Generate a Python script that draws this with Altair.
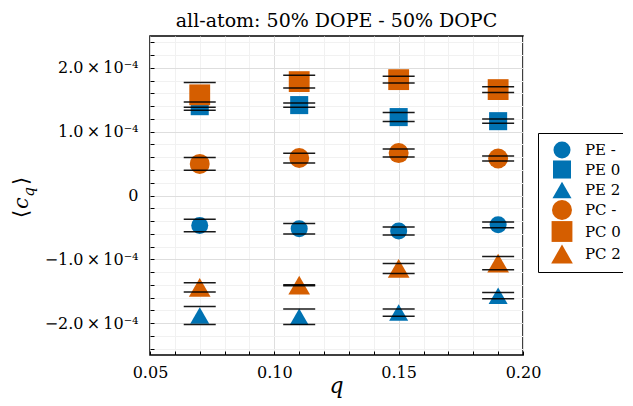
import altair as alt
import pandas as pd

# ---------------- data ----------------
q_values = [0.07, 0.11, 0.15, 0.19]
series_names = ["PE -", "PE 0", "PE 2", "PC -", "PC 0", "PC 2"]

pe_minus = [-0.470e-4, -0.520e-4, -0.557e-4, -0.460e-4]
pe_minus_err = [0.098e-4, 0.083e-4, 0.062e-4, 0.044e-4]
pe_zero = [1.400e-4, 1.417e-4, 1.229e-4, 1.165e-4]
pe_zero_err = [0.064e-4, 0.034e-4, 0.070e-4, 0.034e-4]
pe_two = [-1.880e-4, -1.900e-4, -1.835e-4, -1.570e-4]
pe_two_err = [0.140e-4, 0.120e-4, 0.056e-4, 0.050e-4]
pc_minus = [0.495e-4, 0.587e-4, 0.665e-4, 0.580e-4]
pc_minus_err = [0.100e-4, 0.077e-4, 0.062e-4, 0.040e-4]
pc_zero = [1.578e-4, 1.785e-4, 1.816e-4, 1.660e-4]
pc_zero_err = [0.193e-4, 0.100e-4, 0.054e-4, 0.046e-4]
pc_two = [-1.440e-4, -1.405e-4, -1.144e-4, -1.060e-4]
pc_two_err = [0.072e-4, 0.008e-4, 0.080e-4, 0.105e-4]

series_values = [pe_minus, pe_zero, pe_two, pc_minus, pc_zero, pc_two]
series_errors = [pe_minus_err, pe_zero_err, pe_two_err, pc_minus_err, pc_zero_err, pc_two_err]

series_colors = ["#0072B2", "#0072B2", "#0072B2", "#D55E00", "#D55E00", "#D55E00"]
series_shapes = ["circle", "square", "triangle-up", "circle", "square", "triangle-up"]
series_sizes = [290, 470, 500, 290, 470, 500]

x_ticks = [round(0.05 + 0.01 * i, 4) for i in range(16)]
y_ticks = [round(-2.4e-4 + 0.2e-4 * i, 10) for i in range(25)]

title_text = "all-atom: 50% DOPE - 50% DOPC"
x_title = "q"

rows = []
for name, vals, errs in zip(series_names, series_values, series_errors):
    for q, v, e in zip(q_values, vals, errs):
        rows.append({"series": name, "q": q, "value": v, "err": e})
df = pd.DataFrame(rows)

FONT = "DejaVu Serif"

x_major_test = "abs(datum.value*20 - round(datum.value*20)) < 1e-6"
y_major_test = "abs(datum.value*1e4 - round(datum.value*1e4)) < 1e-6"

x_axis = alt.Axis(
    values=x_ticks,
    title=None,
    labelExpr=f"{x_major_test} ? format(datum.value, '.2f') : ''",
    labelFont=FONT,
    labelFontSize=16,
    labelColor="black",
    labelPadding=13,
    labelFlush=False,
    labelOverlap=False,
    domain=False,
    ticks=True,
    tickColor="black",
    tickSize=alt.ExprRef(expr="-4"),
    grid=True,
    gridColor={"condition": {"test": x_major_test, "value": "#dedede"}, "value": "#f1f1f1"},
    gridWidth=1,
)

y_axis = alt.Axis(
    values=y_ticks,
    title=None,
    labelExpr=(
        f"{y_major_test} ? (abs(datum.value) < 1e-9 ? '0' : "
        "(datum.value < 0 ? '\u2212' : '') + format(abs(datum.value)*1e4, '.1f') + '\u2009\u00d7\u200910\u207b\u2074') : ''"
    ),
    labelFont=FONT,
    labelFontSize=16,
    labelColor="black",
    labelPadding=16,
    labelOverlap=False,
    domain=False,
    ticks=True,
    tickColor="black",
    tickSize=alt.ExprRef(expr="-4"),
    grid=True,
    gridColor={"condition": {"test": y_major_test, "value": "#dedede"}, "value": "#f1f1f1"},
    gridWidth=1,
)

y_scale = alt.Scale(domain=[-2.5e-4, 2.5e-4], nice=False, zero=False)
x_enc = alt.X("q:Q", scale=alt.Scale(domain=[0.05, 0.20], nice=False, zero=False), axis=x_axis)
y_enc = alt.Y("value:Q", scale=y_scale, axis=y_axis)

base = alt.Chart(df)

points = base.mark_point(filled=True, opacity=1, strokeWidth=0).encode(
    x=x_enc,
    y=y_enc,
    color=alt.Color("series:N", scale=alt.Scale(domain=series_names, range=series_colors),
                    legend=alt.Legend(title=None)),
    shape=alt.Shape("series:N", scale=alt.Scale(domain=series_names, range=series_shapes),
                    legend=alt.Legend(title=None)),
    size=alt.Size("series:N", scale=alt.Scale(domain=series_names, range=series_sizes), legend=None),
)

whiskers = base.transform_calculate(
    lo="datum.value - datum.err", hi="datum.value + datum.err"
).transform_fold(["lo", "hi"], as_=["end", "yv"]).mark_tick(
    orient="horizontal", size=32, thickness=1.5, color="black", opacity=0.9
).encode(
    x=x_enc,
    y=alt.Y("yv:Q", scale=y_scale, axis=y_axis),
)

one = alt.Data(values=[{"k": 0}])


def piece(txt, x, y, size, italic=False, angle=270):
    return alt.Chart(one).mark_text(
        text=txt, angle=angle, align="center", baseline="alphabetic",
        font=FONT, fontSize=size, fontStyle="italic" if italic else "normal", color="black"
    ).encode(x=alt.value(x), y=alt.value(y))


ytitle = (
    piece("\u27e8", -122, 178, 21)
    + piece("c", -122, 167, 21, italic=True)
    + piece("q", -116, 156, 15, italic=True)
    + piece("\u27e9", -122, 145, 21)
)

top_title = alt.Chart(one).mark_text(
    text=title_text, align="center", baseline="alphabetic",
    font=FONT, fontSize=19, color="black"
).encode(x=alt.value(186.5), y=alt.value(-9))

bottom_title = piece(x_title, 186.5, 357, 22, italic=True, angle=0)

chart = alt.layer(points, whiskers, ytitle, top_title, bottom_title).properties(
    width=373,
    height=319,
    autosize=alt.AutoSizeParams(type="none"),
    padding={"left": 142, "top": 28, "right": 100, "bottom": 43},
).configure_view(
    stroke="black", strokeWidth=1.5
).configure_legend(
    orient="none", legendX=388, legendY=97,
    strokeColor="black", strokeWidth=1, fillColor="white", padding=8, cornerRadius=0,
    symbolSize=230, symbolStrokeWidth=0, symbolOpacity=1, symbolOffset=5,
    labelFont=FONT, labelFontSize=15, labelColor="black", labelOffset=12, rowPadding=1,
)

chart.save("out.html", embed_options={"renderer": "svg", "actions": False})
